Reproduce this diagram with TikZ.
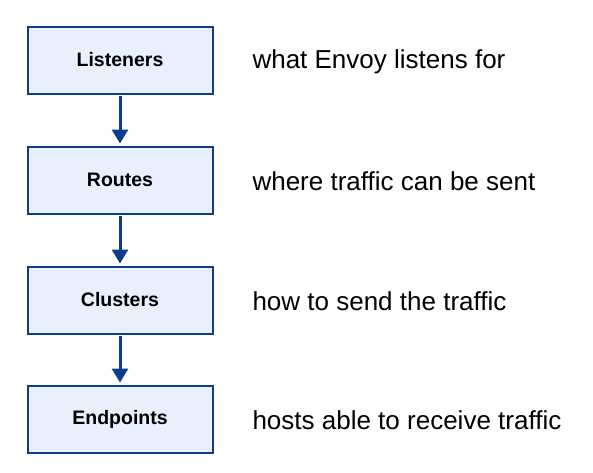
\documentclass[tikz,border=0pt]{standalone}
\usepackage{fontspec}
\setmainfont{Liberation Sans}
\usetikzlibrary{positioning,arrows.meta}
\definecolor{boxfill}{HTML}{E8F0FE}
\definecolor{boxline}{HTML}{0B3D8C}
\tikzset{
  layer/.style={draw=boxline, fill=boxfill, line width=2pt, minimum width=185pt, minimum height=67pt, font=\fontsize{19.5}{23}\selectfont\bfseries},
  note/.style={anchor=west, yshift=-1.5pt, font=\fontsize{26}{31}\selectfont},
  flow/.style={-{Triangle[width=16pt,length=14pt]}, draw=boxline, line width=3pt, shorten >=2pt, shorten <=1pt}
}
\begin{document}
\begin{tikzpicture}[x=1pt,y=-1pt]
\useasboundingbox (0,0) rectangle (593,472);
\node[layer] (listeners) at (120,60) {Listeners};
\node[layer] (routes) at (120,180) {Routes};
\node[layer] (clusters) at (120,300) {Clusters};
\node[layer] (endpoints) at (120,419) {Endpoints};
\node[note] (what) at (249,60) {what Envoy listens for};
\node[note] (where) at (249,180) {where traffic can be sent};
\node[note] (how) at (249,300) {how to send the traffic};
\node[note] (hosts) at (249,419) {hosts able to receive traffic};
\draw[flow] (listeners) -- (routes);
\draw[flow] (routes) -- (clusters);
\draw[flow] (clusters) -- (endpoints);
\end{tikzpicture}
\end{document}
